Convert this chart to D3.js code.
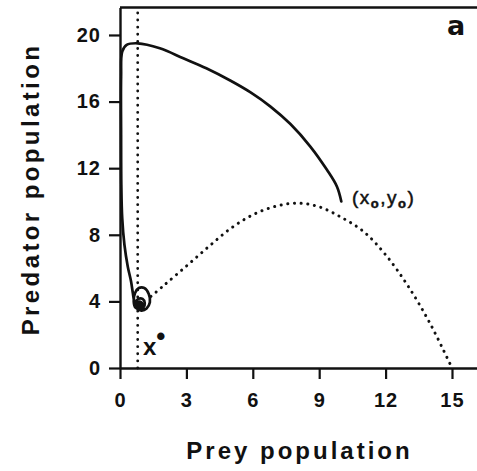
<!DOCTYPE html>
<html>
<head>
<meta charset="utf-8">
<script src="https://cdn.jsdelivr.net/npm/d3@7"></script>
<style>
  html, body { margin: 0; padding: 0; background: #fff; }
  svg { display: block; }
  .tick text { font-family: "Liberation Sans", Arial, sans-serif; font-weight: bold; font-size: 20px; letter-spacing: 1px; fill: #111; }
</style>
</head>
<body>
<svg id="chart" width="477" height="471"></svg>
<script>
// Axis ticks
const xTicks = [0, 3, 6, 9, 12, 15];
const yTicks = [0, 4, 8, 12, 16, 20];

// Prey equilibrium x* (vertical predator isocline)
const xStar = 0.8;

// Humped prey isocline (prey, predator)
const preyIsocline = [
  [1.4, 4.3], [2, 4.98], [3, 6.12], [4, 7.28], [5, 8.38], [6, 9.2], [7, 9.7],
  [8, 9.9], [9, 9.68], [10, 9.05], [11, 8.2], [12, 6.8], [13, 4.95], [14, 2.7], [15, 0]
];

// Trajectory from the initial state (x0, y0) to the equilibrium spiral
const trajectory = [
  [10.0, 10.0], [9.8, 10.9], [9.35, 11.9], [8.6, 13.3], [7.7, 14.65], [6.8, 15.7],
  [5.9, 16.55], [5.0, 17.25], [3.9, 18.0], [2.86, 18.6], [1.8, 19.2], [0.8, 19.5],
  [0.3, 19.4], [0.1, 19.0], [0.05, 17.5], [0.05, 14], [0.06, 11], [0.1, 9],
  [0.2, 7.4], [0.35, 6.1], [0.5, 5.2], [0.58, 4.5], [0.65, 3.95], [0.78, 3.55],
  [0.98, 3.45], [1.2, 3.58], [1.35, 3.95], [1.3, 4.45], [1.1, 4.8], [0.85, 4.8],
  [0.68, 4.5], [0.62, 4.0], [0.7, 3.62], [0.88, 3.52], [1.05, 3.62], [1.12, 3.9],
  [1.02, 4.15], [0.82, 4.15], [0.7, 3.9], [0.75, 3.68], [0.9, 3.6], [1.0, 3.72],
  [0.98, 3.92], [0.85, 3.98], [0.76, 3.82], [0.82, 3.7], [0.92, 3.72], [0.9, 3.85],
  [0.83, 3.8]
];

const svg = d3.select("#chart");
const W = 477, H = 471;

const x = d3.scaleLinear().domain([0, 16.13]).range([120, 477]);
const y = d3.scaleLinear().domain([0, 21.65]).range([368, 7.5]);

// Axes
const xAxis = d3.axisBottom(x).tickValues(xTicks).tickFormat(d3.format("d"))
  .tickSizeInner(11).tickSizeOuter(0).tickPadding(14);
const yAxis = d3.axisLeft(y).tickValues(yTicks).tickFormat(d3.format("d"))
  .tickSizeInner(11).tickSizeOuter(0).tickPadding(8);

const gx = svg.append("g").attr("transform", `translate(0,${y(0)})`).call(xAxis);
const gy = svg.append("g").attr("transform", `translate(${x(0)},0)`).call(yAxis);
[gx, gy].forEach(g => {
  g.selectAll(".domain").attr("stroke", "#111").attr("stroke-width", 2.4);
  g.selectAll(".tick line").attr("stroke", "#111").attr("stroke-width", 2.2);
});

// Top frame line
svg.append("line")
  .attr("x1", x(0)).attr("x2", W)
  .attr("y1", y.range()[1]).attr("y2", y.range()[1])
  .attr("stroke", "#111").attr("stroke-width", 2.4);

const line = d3.line().x(d => x(d[0])).y(d => y(d[1]));

// Vertical isocline at x*
svg.append("path")
  .datum([[xStar, 0], [xStar, y.domain()[1]]])
  .attr("d", line)
  .attr("fill", "none").attr("stroke", "#111").attr("stroke-width", 2.8)
  .attr("stroke-linecap", "round").attr("stroke-dasharray", "0.1 7");

// Prey isocline
svg.append("path")
  .datum(preyIsocline)
  .attr("d", d3.line().x(d => x(d[0])).y(d => y(d[1])).curve(d3.curveCatmullRom))
  .attr("fill", "none").attr("stroke", "#111").attr("stroke-width", 3)
  .attr("stroke-linecap", "round").attr("stroke-dasharray", "0.1 6.6");

// Trajectory
svg.append("path")
  .datum(trajectory)
  .attr("d", d3.line().x(d => x(d[0])).y(d => y(d[1])).curve(d3.curveCatmullRom))
  .attr("fill", "none").attr("stroke", "#111").attr("stroke-width", 2.7)
  .attr("stroke-linejoin", "round").attr("stroke-linecap", "round");

// Axis titles
svg.append("text")
  .attr("x", 299.5).attr("y", 459)
  .attr("text-anchor", "middle")
  .style("font-family", "'Liberation Sans', Arial, sans-serif")
  .style("font-weight", "bold").style("font-size", "24px")
  .style("letter-spacing", "3px")
  .attr("fill", "#111")
  .text("Prey population");

svg.append("text")
  .attr("transform", "translate(38.5,189) rotate(-90)")
  .attr("text-anchor", "middle")
  .style("font-family", "'Liberation Sans', Arial, sans-serif")
  .style("font-weight", "bold").style("font-size", "24px")
  .style("letter-spacing", "3.4px")
  .attr("fill", "#111")
  .text("Predator population");

// Panel letter
svg.append("text")
  .attr("x", 447).attr("y", 35)
  .style("font-family", "'DejaVu Sans', sans-serif")
  .style("font-weight", "bold").style("font-size", "27px")
  .attr("fill", "#111")
  .text("a");

// Initial state label (x0, y0)
const lab = svg.append("text")
  .attr("x", 352).attr("y", 204)
  .style("font-family", "'Liberation Sans', Arial, sans-serif")
  .style("font-size", "19px")
  .style("letter-spacing", "1.5px")
  .attr("fill", "#111").attr("stroke", "#111").attr("stroke-width", 0.5);
lab.append("tspan").text("(x");
lab.append("tspan").attr("dy", 4).style("font-size", "13px").style("font-weight", "bold").text("o");
lab.append("tspan").attr("dy", -4).text(",y");
lab.append("tspan").attr("dy", 4).style("font-size", "13px").style("font-weight", "bold").text("o");
lab.append("tspan").attr("dy", -4).text(")");

// Equilibrium prey label x*
const xs = svg.append("text")
  .attr("x", 143).attr("y", 355)
  .style("font-family", "'Liberation Sans', Arial, sans-serif")
  .style("font-weight", "bold").style("font-size", "24px")
  .attr("fill", "#111");
xs.append("tspan").text("x");
xs.append("tspan").attr("dx", 0).attr("dy", -10).style("font-size", "26px").text("•");
</script>
</body>
</html>
